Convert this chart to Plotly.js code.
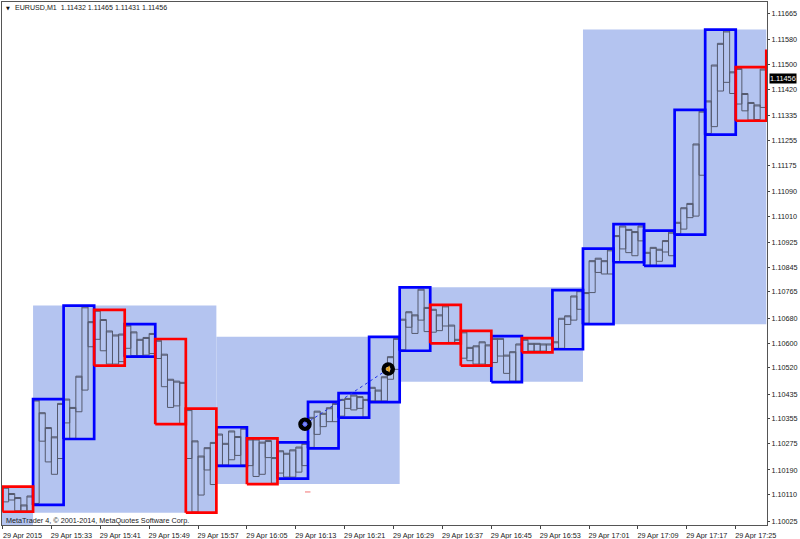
<!DOCTYPE html>
<html>
<head>
<meta charset="utf-8">
<script src="https://cdn.plot.ly/plotly-3.0.1.min.js"></script>
<style>html,body{margin:0;padding:0;background:#fff}</style>
</head>
<body>
<div id="chart" style="width:800px;height:539px"></div>
<script>
// One-minute candle bodies, oldest first, 5 per five-minute box
const bodyTop = [
1.10134,1.10114,1.10101,1.10077,1.10106,
1.10416,1.10375,1.10327,1.10297,1.10405,
1.10419,1.10392,1.10493,1.10717,1.10669,
1.10706,1.10676,1.10639,1.10626,1.10629,
1.10658,1.10636,1.10612,1.10618,1.10631,
1.10609,1.10564,1.10483,1.10477,1.10473,
1.10385,1.10284,1.10235,1.10262,1.10279,
1.10306,1.10276,1.10316,1.10298,1.10325,
1.10290,1.10290,1.10280,1.10285,1.10230,
1.10252,1.10244,1.10255,1.10264,1.10276,
1.10360,1.10380,1.10373,1.10391,1.10405,
1.10418,1.10421,1.10432,1.10427,1.10418,
1.10457,1.10448,1.10491,1.10556,1.10615,
1.10677,1.10701,1.10691,1.10774,1.10715,
1.10709,1.10691,1.10720,1.10658,1.10612,
1.10636,1.10586,1.10591,1.10604,1.10594,
1.10615,1.10615,1.10561,1.10572,1.10597,
1.10612,1.10599,1.10599,1.10597,1.10597,
1.10604,1.10680,1.10688,1.10752,1.10769,
1.10763,1.10866,1.10874,1.10866,1.10901,
1.10947,1.10978,1.10967,1.10960,1.10978,
1.10893,1.10909,1.10903,1.10931,1.10958,
1.10990,1.11037,1.11051,1.11243,1.11349,
1.11382,1.11498,1.11568,1.11608,1.11476,
1.11487,1.11406,1.11377,1.11369,1.11485];
const bodyBottom = [
1.10087,1.10093,1.10058,1.10058,1.10058,
1.10082,1.10283,1.10216,1.10176,1.10227,
1.10342,1.10292,1.10378,1.10448,1.10588,
1.10612,1.10575,1.10532,1.10532,1.10540,
1.10583,1.10559,1.10559,1.10561,1.10566,
1.10550,1.10459,1.10392,1.10397,1.10340,
1.10227,1.10054,1.10109,1.10190,1.10143,
1.10206,1.10206,1.10223,1.10237,1.10206,
1.10204,1.10169,1.10176,1.10230,1.10147,
1.10180,1.10167,1.10167,1.10183,1.10204,
1.10263,1.10305,1.10330,1.10346,1.10346,
1.10364,1.10389,1.10384,1.10389,1.10360,
1.10413,1.10413,1.10413,1.10483,1.10515,
1.10578,1.10651,1.10631,1.10674,1.10637,
1.10635,1.10640,1.10655,1.10602,1.10601,
1.10551,1.10543,1.10532,1.10532,1.10530,
1.10537,1.10558,1.10502,1.10477,1.10477,
1.10572,1.10574,1.10574,1.10574,1.10572,
1.10583,1.10583,1.10660,1.10674,1.10709,
1.10664,1.10763,1.10828,1.10823,1.10823,
1.10863,1.10904,1.10892,1.10882,1.10930,
1.10851,1.10851,1.10864,1.10894,1.10882,
1.10953,1.10968,1.11005,1.11010,1.11142,
1.11277,1.11299,1.11414,1.11442,1.11406,
1.11372,1.11350,1.11320,1.11322,1.11361];

// Five-minute boxes
const boxUpper = [1.10136,1.10419,1.10721,1.10707,1.10661,1.10613,1.10388,1.10328,1.10292,1.10279,1.10410,1.10438,1.10620,1.10780,1.10723,1.10639,1.10622,1.10616,1.10771,1.10905,1.10984,1.10963,1.11353,1.11612,1.11491,1.11544];
const boxLower = [1.10055,1.10077,1.10290,1.10527,1.10556,1.10338,1.10052,1.10203,1.10144,1.10162,1.10260,1.10359,1.10409,1.10575,1.10599,1.10527,1.10474,1.10570,1.10580,1.10661,1.10861,1.10849,1.10950,1.11273,1.11318,1.11358];
const boxIsUp = [0,1,1,0,1,0,0,1,0,1,1,1,1,1,0,0,1,0,1,1,1,1,1,1,0,0];

// Thirty-minute zones: start minute, end minute, upper, lower
const zoneStart = [-1,5,35,65,95];
const zoneEnd = [5,35,65,95,125];
const zoneUpper = [1.10136,1.10721,1.10620,1.10780,1.11613];
const zoneLower = [1.10012,1.10052,1.10145,1.10475,1.10661];

const xTickMinutes = [0,8,16,24,32,40,48,56,64,72,80,88,96,104,112,120];
const xTickLabels = ['29 Apr 2015','29 Apr 15:33','29 Apr 15:41','29 Apr 15:49','29 Apr 15:57','29 Apr 16:05','29 Apr 16:13','29 Apr 16:21','29 Apr 16:29','29 Apr 16:37','29 Apr 16:45','29 Apr 16:53','29 Apr 17:01','29 Apr 17:09','29 Apr 17:17','29 Apr 17:25'];
const yTicks = [1.11665,1.11580,1.11500,1.11420,1.11335,1.11255,1.11175,1.11090,1.11010,1.10925,1.10845,1.10765,1.10680,1.10600,1.10520,1.10435,1.10355,1.10275,1.10190,1.10110,1.10025];

const arrowMinutes = [49.5,63.14];
const arrowPrices = [1.10338,1.10516];
const dashMinutes = [49.5,50.4];
const dashPrices = [1.10119,1.10119];
const lastPrice = 1.11456;
const headerText = 'EURUSD,M1  1.11432 1.11465 1.11431 1.11456';
const footerText = 'MetaTrader 4, © 2001-2014, MetaQuotes Software Corp.';

// minutes after 15:25 on the chart day -> date string
function at(m){
  const s = Math.round((15*3600+25*60)+m*60);
  const p = n => String(n).padStart(2,'0');
  return `2015-04-29 ${p(Math.floor(s/3600))}:${p(Math.floor(s/60)%60)}:${p(s%60)}`;
}

const W=800,H=539,L=2,R=33,T=2,B=14;
const px = x => (x-L)/(W-L-R);
const py = y => 1-(y-T)/(H-T-B);

const barLine = {color:'#555a6e',width:1};
const candles = {
  type:'candlestick',
  x: bodyTop.map((_,i)=>at(i+0.5)),
  open: bodyBottom, close: bodyTop, high: bodyTop, low: bodyBottom,
  increasing:{line:barLine,fillcolor:'rgba(0,0,0,0)'},
  decreasing:{line:barLine,fillcolor:'rgba(0,0,0,0)'},
  hoverinfo:'skip'
};

function boxTrace(flag,color){
  const xs=[],ys=[];
  boxUpper.forEach((u,i)=>{
    if(boxIsUp[i]!==flag) return;
    const a=at(i*5),b=at((i+1)*5),d=boxLower[i];
    xs.push(a,a,b,b,a,null); ys.push(d,u,u,d,d,null);
  });
  return {type:'scatter',mode:'lines',x:xs,y:ys,line:{color:color,width:2.7,shape:'linear'},hoverinfo:'skip'};
}

const dotted = {type:'scatter',mode:'lines',x:arrowMinutes.map(at),y:arrowPrices,line:{color:'#2030e8',width:1,dash:'dot'},hoverinfo:'skip'};
const rings = {type:'scatter',mode:'markers',x:arrowMinutes.map(at),y:arrowPrices,
  marker:{size:9,color:'#ffffff',line:{color:'#000000',width:4.5}},hoverinfo:'skip'};
const startMark = {type:'scatter',mode:'markers',x:[at(arrowMinutes[0])],y:[arrowPrices[0]],
  marker:{size:4,symbol:'diamond',color:'#7f8cf0',line:{width:0.8,color:'#2030e8'}},hoverinfo:'skip'};
const endMark = {type:'scatter',mode:'markers',x:[at(arrowMinutes[1])],y:[arrowPrices[1]],
  marker:{size:6,symbol:'triangle-left',color:'#e0a020',line:{width:0}},hoverinfo:'skip'};
const dash = {type:'scatter',mode:'lines',x:dashMinutes.map(at),y:dashPrices,line:{color:'#f58a8a',width:1.2},hoverinfo:'skip'};

const shapes = zoneStart.map((s,i)=>({type:'rect',layer:'below',xref:'x',yref:'y',
  x0:at(s),x1:at(zoneEnd[i]),y0:zoneLower[i],y1:zoneUpper[i],
  fillcolor:'#b4c4f0',line:{width:0}}));

const font = {family:'"Liberation Sans", Arial, sans-serif',size:7.25,color:'#1a1a1a'};
const layout = {
  width:W,height:H,
  margin:{l:L,r:R,t:T,b:B,pad:0},
  paper_bgcolor:'#fff',plot_bgcolor:'#fff',
  showlegend:false,hovermode:false,
  boxgap:0,boxgroupgap:0,boxmode:'overlay',
  xaxis:{type:'date',range:[at(-0.082),at(125.12)],rangeslider:{visible:false},
    tickmode:'array',tickvals:xTickMinutes.map(at),ticktext:xTickLabels,
    ticks:'outside',ticklen:3,tickcolor:'#444',tickfont:font,tickangle:0,
    ticklabelshift:20,ticklabelstandoff:0,
    showgrid:false,zeroline:false,showline:true,linecolor:'#555',linewidth:1,mirror:true},
  yaxis:{side:'right',range:[1.1001225,1.1170154],
    tickmode:'array',tickvals:yTicks,ticktext:yTicks.map(v=>v.toFixed(5)),
    ticks:'outside',ticklen:2,tickcolor:'#444',tickfont:font,
    showgrid:false,zeroline:false,showline:true,linecolor:'#555',linewidth:1,mirror:true},
  shapes:shapes,
  annotations:[
    {xref:'paper',yref:'paper',x:px(12.5),y:py(8),xanchor:'left',yanchor:'middle',text:headerText,showarrow:false,font:{family:font.family,size:7.1,color:font.color}},
    {xref:'paper',yref:'paper',x:px(4),y:py(8),xanchor:'left',yanchor:'middle',text:'▼',showarrow:false,font:{family:'"DejaVu Sans"',size:5,color:'#111'}},
    {xref:'paper',yref:'paper',x:px(3.5),y:py(520),xanchor:'left',yanchor:'middle',text:footerText,showarrow:false,font:font},
    {xref:'paper',yref:'y',x:px(769),y:lastPrice,xanchor:'left',yanchor:'middle',text:lastPrice.toFixed(5),showarrow:false,
     font:{family:font.family,size:7.25,color:'#fff'},bgcolor:'#000',borderpad:0}
  ]
};
Plotly.newPlot('chart',[candles,boxTrace(1,'#0000ff'),boxTrace(0,'#ff0000'),dash,dotted,rings,startMark,endMark],layout,{displayModeBar:false,staticPlot:true});
</script>
</body>
</html>
